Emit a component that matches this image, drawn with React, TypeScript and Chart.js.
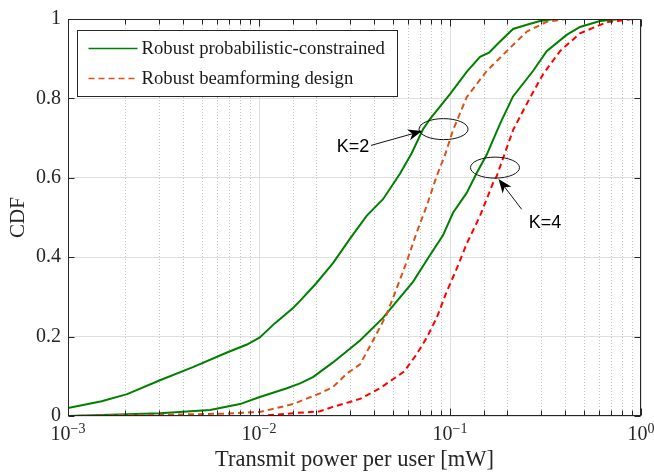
import React, { useEffect, useRef } from 'react';
import { Chart, registerables } from 'chart.js';

Chart.register(...registerables);

// ---------- data (transmit power in mW, CDF value) ----------
const probK2Power = [0.001, 0.0015, 0.00204, 0.00303, 0.00451, 0.0068, 0.00865, 0.0101, 0.012, 0.01507, 0.0164, 0.02, 0.0244, 0.0299, 0.0366, 0.0446, 0.0547, 0.063, 0.0722, 0.0785, 0.1, 0.1223, 0.1436, 0.16, 0.18, 0.2138, 0.25, 0.296, 0.35, 1];
const probK2Cdf = [0.02, 0.037, 0.055, 0.09, 0.123, 0.16, 0.18, 0.198, 0.232, 0.272, 0.29, 0.335, 0.385, 0.446, 0.504, 0.546, 0.61, 0.662, 0.722, 0.748, 0.811, 0.867, 0.905, 0.915, 0.94, 0.975, 0.985, 0.995, 1, 1];

const bfK2Power = [0.001, 0.00303, 0.0068, 0.0101, 0.01507, 0.02086, 0.02439, 0.02888, 0.0338, 0.03953, 0.04662, 0.0526, 0.0593, 0.067, 0.0755, 0.0851, 0.0941, 0.1037, 0.1223, 0.1556, 0.198, 0.252, 0.3208, 0.408, 1];
const bfK2Cdf = [0.0, 0.003, 0.006, 0.01, 0.03, 0.057, 0.073, 0.107, 0.13, 0.19, 0.256, 0.322, 0.388, 0.463, 0.529, 0.604, 0.657, 0.72, 0.803, 0.869, 0.919, 0.968, 0.993, 1, 1];

const probK4Power = [0.001, 0.00303, 0.00554, 0.00795, 0.0101, 0.014, 0.0164, 0.01917, 0.02439, 0.0338, 0.04458, 0.0526, 0.064, 0.0785, 0.0919, 0.1037, 0.1223, 0.138, 0.1556, 0.1827, 0.2138, 0.272, 0.3208, 0.408, 0.479, 0.61, 0.776, 1];
const probK4Cdf = [0.0, 0.007, 0.015, 0.03, 0.048, 0.07, 0.082, 0.098, 0.135, 0.19, 0.247, 0.289, 0.338, 0.405, 0.455, 0.512, 0.562, 0.612, 0.658, 0.736, 0.805, 0.869, 0.919, 0.96, 0.98, 0.995, 1, 1];

const bfK4Power = [0.001, 0.0101, 0.01507, 0.02086, 0.02439, 0.0338, 0.043, 0.0575, 0.067, 0.0755, 0.0851, 0.0961, 0.1084, 0.1223, 0.1436, 0.168, 0.1756, 0.2138, 0.252, 0.307, 0.3767, 0.479, 0.661, 0.908, 1];
const bfK4Cdf = [0.0, 0.0, 0.007, 0.012, 0.023, 0.043, 0.07, 0.112, 0.156, 0.197, 0.247, 0.313, 0.371, 0.434, 0.504, 0.587, 0.604, 0.72, 0.786, 0.861, 0.919, 0.964, 0.992, 1, 1];

const legendLabels = ['Robust probabilistic-constrained', 'Robust beamforming design'];
const xTickValues = [0.001, 0.01, 0.1, 1];
const xTickBase = '10';
const xTickExponents = ['\u22123', '\u22122', '\u22121', '0'];
const yTickValues = [0, 0.2, 0.4, 0.6, 0.8, 1];
const yTickLabels = ['0', '0.2', '0.4', '0.6', '0.8', '1'];
const xTitle = 'Transmit power per user [mW]';
const yTitle = 'CDF';

// annotations (data coordinates)
const annotationLabels = ['K=2', 'K=4'];
const ellipseCenters = [[0.0925, 0.7226], [0.172, 0.6256]];
const arrowTails = [[0.0386, 0.6816], [0.2373, 0.5206]];
const arrowTips = [[0.0714, 0.7177], [0.1795, 0.597]];
const labelAnchors = [[0.0311, 0.6766], [0.3144, 0.4863]];

// ---------- styles ----------
const GREEN = '#008000';
const ORANGE = '#D95319';
const RED = '#FF0000';
const AXIS = '#262626';
const SERIF = '"Liberation Serif", "Times New Roman", serif';
const SANS = '"Liberation Sans", Arial, sans-serif';

const toPoints = (xs: number[], ys: number[]) => xs.map((x, i) => ({ x, y: ys[i] }));
const isDecade = (v: number) => Math.abs(Math.log10(v) - Math.round(Math.log10(v))) < 1e-9;

const overlayPlugin = {
  id: 'overlay',
  beforeDatasetsDraw(chart: any) {
    const { ctx, chartArea: a, scales } = chart;
    const xs = scales.x;
    ctx.save();
    ctx.strokeStyle = '#c4c4c4';
    ctx.lineWidth = 1;
    ctx.setLineDash([1, 2]);
    xs.ticks.forEach((t: any) => {
      if (isDecade(t.value)) return;
      const px = Math.round(xs.getPixelForValue(t.value)) + 0.5;
      ctx.beginPath();
      ctx.moveTo(px, a.top);
      ctx.lineTo(px, a.bottom);
      ctx.stroke();
    });
    ctx.restore();
  },
  afterDatasetsDraw(chart: any) {
    const { ctx, chartArea: a, scales } = chart;
    const xs = scales.x;
    const ys = scales.y;
    ctx.save();
    // axes box
    ctx.strokeStyle = AXIS;
    ctx.lineWidth = 1;
    ctx.setLineDash([]);
    const L = Math.round(a.left) + 0.5, R = Math.round(a.right) - 0.5;
    const T = Math.round(a.top) + 0.5, B = Math.round(a.bottom) - 0.5;
    ctx.strokeRect(L, T, R - L, B - T);
    // x tick marks (inside, top & bottom)
    xs.ticks.forEach((t: any) => {
      const px = Math.round(xs.getPixelForValue(t.value)) + 0.5;
      const len = isDecade(t.value) ? 7 : 5;
      ctx.beginPath();
      ctx.moveTo(px, B); ctx.lineTo(px, B - len);
      ctx.moveTo(px, T); ctx.lineTo(px, T + len);
      ctx.stroke();
    });
    // y tick marks (inside, left & right)
    ys.ticks.forEach((t: any) => {
      const py = Math.round(ys.getPixelForValue(t.value)) + 0.5;
      ctx.beginPath();
      ctx.moveTo(L, py); ctx.lineTo(L + 6, py);
      ctx.moveTo(R, py); ctx.lineTo(R - 6, py);
      ctx.stroke();
    });
    // x tick labels with superscript exponent
    ctx.fillStyle = AXIS;
    ctx.textBaseline = 'alphabetic';
    ctx.textAlign = 'left';
    xTickValues.forEach((v, i) => {
      const px = xs.getPixelForValue(v);
      ctx.font = `20px ${SERIF}`;
      const w1 = ctx.measureText(xTickBase).width;
      ctx.font = `14px ${SERIF}`;
      const w2 = ctx.measureText(xTickExponents[i]).width;
      const left = px - (w1 + w2) / 2;
      ctx.font = `20px ${SERIF}`;
      ctx.fillText(xTickBase, left, a.bottom + 24);
      ctx.font = `14px ${SERIF}`;
      ctx.fillText(xTickExponents[i], left + w1, a.bottom + 17);
    });
    // annotations: ellipses, arrows, labels
    ctx.strokeStyle = '#111';
    ctx.fillStyle = '#000';
    ctx.lineWidth = 1;
    ellipseCenters.forEach(([cx, cy]) => {
      ctx.beginPath();
      ctx.ellipse(xs.getPixelForValue(cx), ys.getPixelForValue(cy), 24.5, 10.5, 0, 0, Math.PI * 2);
      ctx.stroke();
    });
    arrowTails.forEach(([tx, ty], i) => {
      const x0 = xs.getPixelForValue(tx), y0 = ys.getPixelForValue(ty);
      const x1 = xs.getPixelForValue(arrowTips[i][0]), y1 = ys.getPixelForValue(arrowTips[i][1]);
      const dx = x1 - x0, dy = y1 - y0;
      const d = Math.hypot(dx, dy);
      const ux = dx / d, uy = dy / d;
      const nx = -uy, ny = ux;
      const hl = 14, hw = 5.5, notch = 10;
      ctx.beginPath();
      ctx.moveTo(x0, y0);
      ctx.lineTo(x1 - ux * notch, y1 - uy * notch);
      ctx.stroke();
      ctx.beginPath();
      ctx.moveTo(x1, y1);
      ctx.lineTo(x1 - ux * hl + nx * hw, y1 - uy * hl + ny * hw);
      ctx.lineTo(x1 - ux * notch, y1 - uy * notch);
      ctx.lineTo(x1 - ux * hl - nx * hw, y1 - uy * hl - ny * hw);
      ctx.closePath();
      ctx.fill();
    });
    ctx.font = `18px ${SANS}`;
    ctx.textAlign = 'center';
    ctx.textBaseline = 'middle';
    labelAnchors.forEach(([lx, ly], i) => {
      ctx.fillText(annotationLabels[i], xs.getPixelForValue(lx), ys.getPixelForValue(ly));
    });
    // legend
    const bx = Math.round(a.left + 9) + 0.5, by = Math.round(a.top + 11) + 0.5;
    const bw = 320, bh = 66;
    ctx.fillStyle = '#ffffff';
    ctx.fillRect(bx, by, bw, bh);
    ctx.strokeStyle = AXIS;
    ctx.strokeRect(bx, by, bw, bh);
    const rows = [by + 18, by + 48];
    const colors = [GREEN, ORANGE];
    ctx.font = `18.7px ${SERIF}`;
    ctx.textAlign = 'left';
    ctx.textBaseline = 'middle';
    legendLabels.forEach((lab, i) => {
      ctx.strokeStyle = colors[i];
      ctx.lineWidth = 1.5;
      ctx.setLineDash(i === 1 ? [6, 4] : []);
      ctx.beginPath();
      ctx.moveTo(bx + 11, rows[i]);
      ctx.lineTo(bx + 60, rows[i]);
      ctx.stroke();
      ctx.setLineDash([]);
      ctx.fillStyle = '#1a1a1a';
      ctx.fillText(lab, bx + 64, rows[i] + 1);
    });
    ctx.restore();
  },
};

export default function App() {
  const ref = useRef<HTMLCanvasElement | null>(null);
  useEffect(() => {
    if (!ref.current) return;
    const chart = new Chart(ref.current, {
      type: 'line',
      data: {
        datasets: [
          { label: 'probK2', data: toPoints(probK2Power, probK2Cdf), borderColor: GREEN, borderWidth: 2 },
          { label: 'bfK2', data: toPoints(bfK2Power, bfK2Cdf), borderColor: ORANGE, borderWidth: 2, borderDash: [6, 4] },
          { label: 'probK4', data: toPoints(probK4Power, probK4Cdf), borderColor: GREEN, borderWidth: 2 },
          { label: 'bfK4', data: toPoints(bfK4Power, bfK4Cdf), borderColor: RED, borderWidth: 2, borderDash: [6, 4] },
        ],
      },
      options: {
        animation: false,
        responsive: true,
        maintainAspectRatio: false,
        layout: { padding: { left: 0, right: 13, top: 14, bottom: 0 } },
        elements: { point: { radius: 0 }, line: { tension: 0, fill: false } },
        plugins: { legend: { display: false }, tooltip: { enabled: false } },
        scales: {
          x: {
            type: 'logarithmic',
            min: 0.001,
            max: 1,
            afterFit: (s: any) => { s.height = 59; },
            ticks: { display: false, autoSkip: false },
            grid: {
              drawTicks: false,
              color: (c: any) => (c.tick && isDecade(c.tick.value) ? '#dfdfdf' : 'rgba(0,0,0,0)'),
              lineWidth: 1,
            },
            border: { display: false },
            title: {
              display: true,
              text: xTitle,
              color: AXIS,
              font: { family: SERIF, size: 22.5 },
              padding: { top: 0, bottom: 1.8 },
            },
          },
          y: {
            type: 'linear',
            min: 0,
            max: 1,
            afterFit: (s: any) => { s.width = 68; },
            afterBuildTicks: (s: any) => { s.ticks = yTickValues.map((v) => ({ value: v })); },
            ticks: {
              color: AXIS,
              padding: 7,
              font: { family: SERIF, size: 20 },
              callback: (v: any) => {
                const i = yTickValues.findIndex((t) => Math.abs(t - Number(v)) < 1e-9);
                return i >= 0 ? yTickLabels[i] : '';
              },
            },
            grid: { drawTicks: false, color: '#dfdfdf', lineWidth: 1 },
            border: { display: false },
            title: {
              display: true,
              text: yTitle,
              color: AXIS,
              font: { family: SERIF, size: 21 },
              padding: { top: 5.7, bottom: 0 },
            },
          },
        },
      },
      plugins: [overlayPlugin],
    });
    return () => chart.destroy();
  }, []);
  return (
    <div style={{ position: 'fixed', left: 0, top: 0, width: 654, height: 475, background: '#fff' }}>
      <canvas ref={ref} />
    </div>
  );
}
